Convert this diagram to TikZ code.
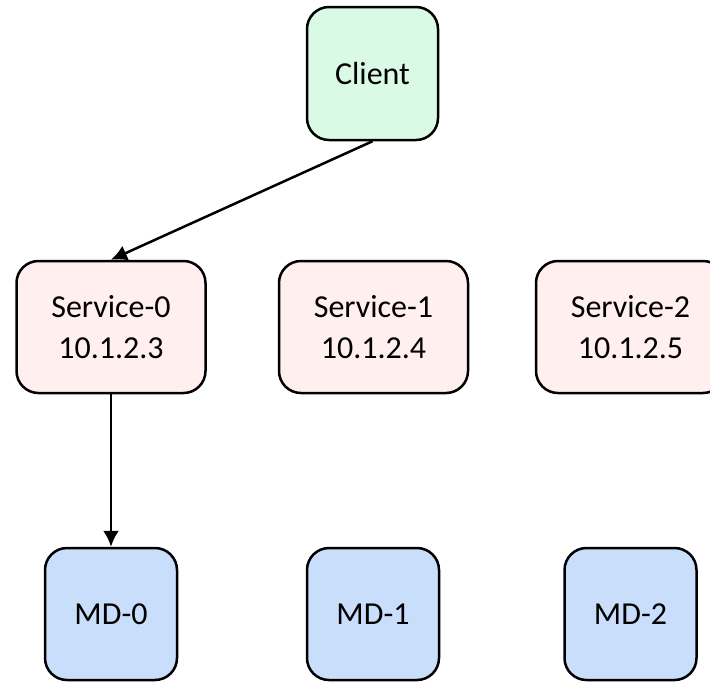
\documentclass[tikz,border=0pt]{standalone}
\usepackage{fontspec}
\setmainfont{Carlito}
\usepackage{tikz}
\usetikzlibrary{arrows.meta}

\definecolor{clientgreen}{HTML}{DAFAE5}
\definecolor{servicepink}{HTML}{FFEFEF}
\definecolor{mdblue}{HTML}{C9DEFB}

\begin{document}
\begin{tikzpicture}[
    x=0.5pt, y=-0.5pt,
    every node/.style={draw,rounded corners=11pt,line width=1.25pt,align=center,
        inner sep=0pt,font=\fontsize{16}{20.5}\selectfont},
    client/.style={fill=clientgreen,minimum width=65.5pt,minimum height=66.5pt},
    service/.style={fill=servicepink,minimum width=94.5pt,minimum height=66pt},
    md/.style={fill=mdblue,minimum width=66pt,minimum height=66pt},
    link/.style={line width=1.25pt,-{Latex[length=8pt,width=8pt]}}
]
\useasboundingbox (0,0) rectangle (710,681);
\node[client] (client) at (372.5,73.5) {Client};

\node[service] (s0) at (111,327) {Service-0\\10.1.2.3};
\node[service] (s1) at (373.5,327) {Service-1\\10.1.2.4};
\node[service] (s2) at (630.5,327) {Service-2\\10.1.2.5};

\node[md] (md0) at (111,614) {MD-0};
\node[md] (md1) at (373,614) {MD-1};
\node[md] (md2) at (630.5,614) {MD-2};

\draw[link] (client.south) -- (s0.north);
\draw[link] (s0.south) -- (md0.north);
\end{tikzpicture}
\end{document}
